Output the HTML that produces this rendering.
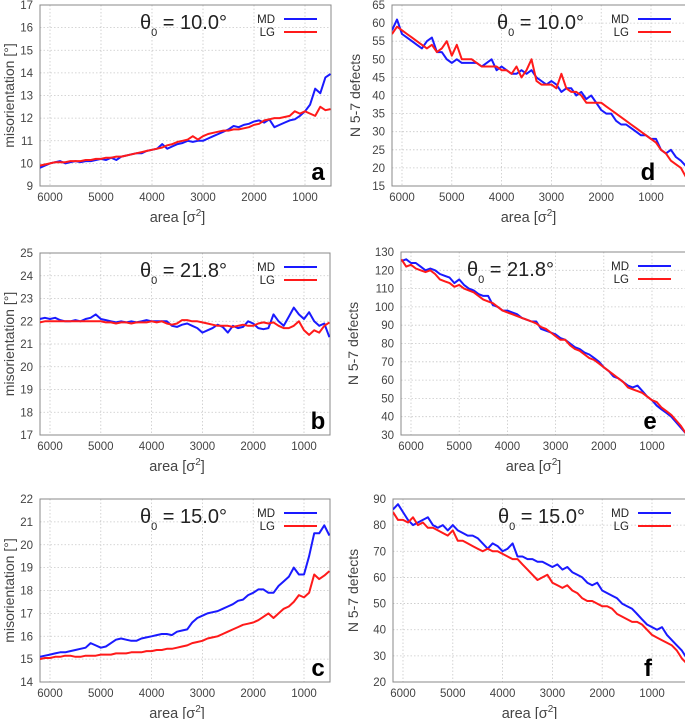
<!DOCTYPE html>
<html><head><meta charset="utf-8"><style>
body{margin:0;background:#fff;width:685px;height:719px;overflow:hidden}
svg{display:block;font-family:"Liberation Sans",sans-serif}
</style></head><body>
<svg id="fig" width="685" height="719"></svg>
<script>
const areaLeft=[6200,6100,6000,5900,5800,5700,5600,5500,5400,5300,5200,5100,5000,4900,4800,4700,4600,4500,4400,4300,4200,4100,4000,3900,3800,3700,3600,3500,3400,3300,3200,3100,3000,2900,2800,2700,2600,2500,2400,2300,2200,2100,2000,1900,1800,1700,1600,1500,1400,1300,1200,1100,1000,900,800,700,600,500];
const areaRight=[6200,6100,6000,5900,5800,5700,5600,5500,5400,5300,5200,5100,5000,4900,4800,4700,4600,4500,4400,4300,4200,4100,4000,3900,3800,3700,3600,3500,3400,3300,3200,3100,3000,2900,2800,2700,2600,2500,2400,2300,2200,2100,2000,1900,1800,1700,1600,1500,1400,1300,1200,1100,1000,900,800,700,600,500,400,300];
const xTicks=[6000,5000,4000,3000,2000,1000];
const aMD=[9.8,9.9,10.0,10.05,10.1,10.0,10.05,10.1,10.05,10.1,
10.1,10.15,10.2,10.15,10.25,10.15,10.3,10.35,10.4,10.45,
10.45,10.55,10.6,10.65,10.85,10.65,10.75,10.85,10.9,11.0,
10.95,11.0,11.0,11.1,11.2,11.3,11.4,11.5,11.65,11.6,
11.7,11.75,11.85,11.9,11.8,11.95,11.6,11.7,11.8,11.9,
11.95,12.1,12.3,12.6,13.3,13.1,13.8,13.95];
const aLG=[9.9,9.95,10.0,10.05,10.05,10.05,10.1,10.1,10.1,10.15,
10.15,10.2,10.2,10.25,10.25,10.3,10.3,10.35,10.4,10.45,
10.5,10.55,10.6,10.65,10.7,10.8,10.85,10.95,11.0,11.05,
11.2,11.05,11.2,11.3,11.35,11.4,11.45,11.45,11.5,11.5,
11.55,11.6,11.7,11.75,11.9,11.95,12.0,12.0,12.05,12.1,
12.3,12.2,12.3,12.2,12.1,12.5,12.35,12.4];
const bMD=[22.1,22.15,22.1,22.15,22.05,22.0,22.0,22.05,22.0,22.1,
22.15,22.3,22.1,22.05,22.0,21.95,22.0,21.95,22.0,21.95,
22.0,22.05,22.0,22.0,22.0,22.0,21.8,21.75,21.85,21.9,
21.8,21.7,21.5,21.6,21.7,21.85,21.75,21.5,21.8,21.7,
21.75,22.0,21.9,21.7,21.65,21.7,22.3,22.0,21.8,22.2,
22.6,22.3,22.1,22.4,22.0,21.8,21.9,21.3];
const bLG=[21.95,22.0,22.0,22.0,22.0,22.0,22.0,22.0,22.0,22.0,
22.0,22.0,22.0,21.95,21.95,21.9,21.95,21.95,21.9,21.95,
21.95,21.95,22.0,21.95,22.0,21.9,21.85,21.9,22.05,22.05,
22.0,22.0,21.95,21.9,21.85,21.8,21.8,21.8,21.75,21.8,
21.85,21.8,21.8,21.9,21.95,21.9,21.95,21.8,21.7,21.7,
21.8,22.0,21.6,21.4,21.6,21.5,21.8,21.95];
const cMD=[15.1,15.15,15.2,15.25,15.3,15.3,15.35,15.4,15.45,15.5,
15.7,15.6,15.5,15.55,15.7,15.85,15.9,15.85,15.8,15.8,
15.9,15.95,16.0,16.05,16.1,16.1,16.05,16.2,16.25,16.3,
16.6,16.8,16.9,17.0,17.05,17.1,17.2,17.3,17.4,17.55,
17.6,17.8,17.9,18.05,18.05,17.9,17.9,18.2,18.4,18.6,
19.0,18.7,18.7,19.5,20.5,20.5,20.85,20.4];
const cLG=[15.0,15.05,15.05,15.1,15.1,15.15,15.15,15.1,15.1,15.15,
15.15,15.15,15.2,15.2,15.2,15.25,15.25,15.25,15.3,15.3,
15.3,15.35,15.35,15.4,15.4,15.45,15.45,15.5,15.55,15.6,
15.7,15.75,15.8,15.9,15.95,16.0,16.1,16.2,16.3,16.4,
16.5,16.55,16.6,16.7,16.85,17.0,16.8,17.0,17.2,17.3,
17.5,17.8,17.7,17.9,18.7,18.5,18.65,18.85];
const dMD=[58,61,57,56,55,54,53,55,56,52,
52,50,49,50,49,49,49,49,48,49,
50,47,48,47,46,46,47,46,47,45,
44,43,44,43,41,42,42,40,41,39,
40,38,36,35,35,33,32,32,31,30,
29,29,28,28,25,24,25,23,22,20.5];
const dLG=[57,59,58,57,56,55,54,53,54,52,
53,55,51,54,50,50,50,49,48,48,
48,48,47,47,46,48,45,47,50,44,
43,43,43,42,46,42,41,41,40,38,
38,38,38,37,36,35,34,33,32,31,
30,29,28,27,25,24,22,21,20,17.5];
const eMD=[125,126,124,124,122,120,121,120,118,117,
116,113,115,112,110,109,107,106,106,101,
100,98,98,97,96,94,93,92,92,88,
87,86,85,83,82,80,78,77,75,74,
72,70,67,65,62,61,59,57,56,57,
54,51,49,46,44,42,40,37,34,31];
const eLG=[126,122,123,121,120,119,120,118,115,114,
113,111,112,110,109,108,106,104,103,102,
100,98,97,96,95,94,93,92,91,89,
88,86,84,82,82,79,77,76,74,72,
71,69,67,65,63,61,59,56,55,54,
53,51,49,48,45,43,41,38,35,31];
const fMD=[86,88,85,82,80,81,82,83,80,79,
80,78,80,78,77,76,76,75,73,71,
73,72,70,71,73,68,68,67,67,66,
66,65,64,65,63,64,62,61,60,58,
57,58,55,54,53,52,50,49,48,46,
44,42,41,40,41,38,36,34,32,29];
const fLG=[85,82,82,81,83,80,81,79,79,78,
77,76,78,74,74,73,72,71,70,71,
70,70,69,68,67,67,65,63,61,59,
60,61,58,57,56,57,55,54,52,51,
51,50,49,49,48,46,45,44,43,43,
42,40,38,37,36,35,34,32,29,27];
const yTicksA=[9,10,11,12,13,14,15,16,17];
const yTicksB=[17,18,19,20,21,22,23,24,25];
const yTicksC=[14,15,16,17,18,19,20,21,22];
const yTicksD=[15,20,25,30,35,40,45,50,55,60,65];
const yTicksE=[30,40,50,60,70,80,90,100,110,120,130];
const yTicksF=[20,30,40,50,60,70,80,90];

const NS="http://www.w3.org/2000/svg";
const svg=document.getElementById('fig');
function mk(tag,attrs,parent){const e=document.createElementNS(NS,tag);for(const k in attrs)e.setAttribute(k,attrs[k]);(parent||svg).appendChild(e);return e;}

const panels=[
 {id:'a',L:40,R:331,T:5,B:186,x6:50,x1:305,yt:yTicksA,area:areaLeft,md:aMD,lg:aLG,theta:'10.0',ylab:'misorientation [°]',left:true,yx:14},
 {id:'b',L:40,R:330,T:253,B:435,x6:50,x1:304,yt:yTicksB,area:areaLeft,md:bMD,lg:bLG,theta:'21.8',ylab:'misorientation [°]',left:true,yx:14},
 {id:'c',L:40,R:330,T:499,B:682,x6:50,x1:304,yt:yTicksC,area:areaLeft,md:cMD,lg:cLG,theta:'15.0',ylab:'misorientation [°]',left:true,yx:14},
 {id:'d',L:392,R:688,T:5,B:186,x6:402,x1:651,yt:yTicksD,area:areaRight,md:dMD,lg:dLG,theta:'10.0',ylab:'N 5-7 defects',left:false,yx:360},
 {id:'e',L:401,R:688,T:252,B:435,x6:411,x1:652,yt:yTicksE,area:areaRight,md:eMD,lg:eLG,theta:'21.8',ylab:'N 5-7 defects',left:false,yx:358},
 {id:'f',L:393,R:688,T:499,B:682,x6:403,x1:652,yt:yTicksF,area:areaRight,md:fMD,lg:fLG,theta:'15.0',ylab:'N 5-7 defects',left:false,yx:358}
];

panels.forEach(p=>{
  const g=mk('g',{});
  
  
  const ymin=p.yt[0],ymax=p.yt[p.yt.length-1];
  const xs=v=>p.x6+(6000-v)*(p.x1-p.x6)/5000;
  const ys=v=>p.B-(v-ymin)*(p.B-p.T)/(ymax-ymin);
  const cp=mk('clipPath',{id:'clip'+p.id},g);
  mk('rect',{x:p.L,y:p.T,width:p.R-p.L,height:p.B-p.T},cp);
  xTicks.forEach(t=>{
    const l=mk('line',{x1:xs(t),x2:xs(t),y1:p.T,y2:p.B,stroke:'#c8c8c8','stroke-width':0.8,'stroke-dasharray':'1.5,2'},g);
    
    
    const tx=mk('text',{x:xs(t),y:p.B+15,'font-size':11.5,'text-anchor':'middle',fill:'#444'},g);
    tx.textContent=t;
    
    
  });
  p.yt.forEach(t=>{
    if(t!==ymin&&t!==ymax){
      const l=mk('line',{x1:p.L,x2:p.R,y1:ys(t),y2:ys(t),stroke:'#c8c8c8','stroke-width':0.8,'stroke-dasharray':'1.5,2'},g);
      
      
    }
    const tx=mk('text',{x:p.L-7,y:ys(t)+4,'font-size':11.5,'text-anchor':'end',fill:'#444'},g);
    tx.textContent=t;
    
    
  });
  const fr=mk('rect',{x:p.L,y:p.T,width:p.R-p.L,height:p.B-p.T,fill:'none',stroke:'#888','stroke-width':1},g);
  
  
  const xt=mk('text',{x:(p.x6+p.x1)/2+(p.left?0:2),y:p.B+36,'font-size':14.5,'text-anchor':'middle',fill:'#444'},g);
  xt.innerHTML='area [σ<tspan dy="-6" font-size="10">2</tspan><tspan dy="6">]</tspan>';
  
  
  const yx=p.yx;
  const yt=mk('text',{x:yx,y:(p.T+p.B)/2,'font-size':14,'text-anchor':'middle',fill:'#444',transform:`rotate(-90 ${yx} ${(p.T+p.B)/2})`},g);
  yt.textContent=p.ylab;
  
  
  [['md',p.md,'#1a1aff'],['lg',p.lg,'#ff1a1a']].forEach(([nm,vals,col])=>{
    const d=vals.map((v,i)=>(i?'L':'M')+xs(p.area[i]).toFixed(1)+','+ys(v).toFixed(1)).join('');
    const path=mk('path',{d:d,fill:'none',stroke:col,'stroke-width':2,'stroke-linejoin':'round','clip-path':`url(#clip${p.id})`},g);
    
    
  });
  const tX=p.left?140:p.L+(p.id==='e'?66:105);
  const th=mk('text',{x:tX,y:p.T+24,'font-size':20,fill:'#222'},g);
  th.innerHTML='θ<tspan dy="7" font-size="11">0</tspan><tspan dy="-7"> = '+p.theta+'°</tspan>';
  
  
  const lx=p.left?284:638;
  [['MD','#1a1aff',14],['LG','#ff1a1a',27]].forEach(([lab,col,dy])=>{
    const t=mk('text',{x:lx-9,y:p.T+dy+4,'font-size':11.5,'text-anchor':'end',fill:'#222'},g);
    t.textContent=lab;
    
    
    const l=mk('line',{x1:lx,x2:lx+33,y1:p.T+dy,y2:p.T+dy,stroke:col,'stroke-width':2},g);
    
    
  });
  const letterX=p.left?318:(p.id==='e'?650:648);
  const lt=mk('text',{x:letterX,y:p.B-6,'font-size':24,'font-weight':'bold','text-anchor':'middle',fill:'#000'},g);
  lt.textContent=p.id;
  
  
});
</script>
</body></html>
